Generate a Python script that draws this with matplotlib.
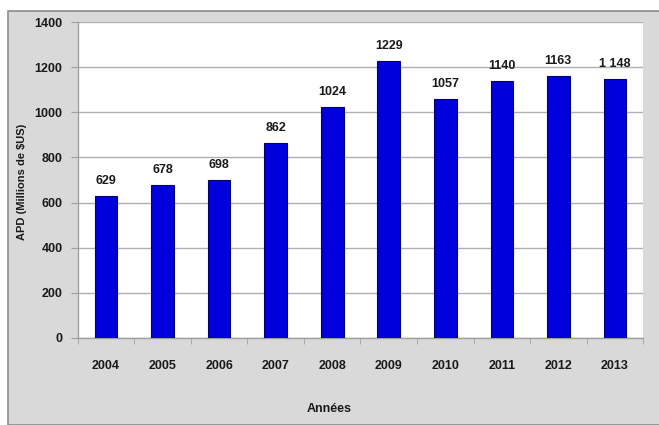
import matplotlib
matplotlib.use("Agg")
import matplotlib.pyplot as plt
from matplotlib.patches import Rectangle

years = ["2004", "2005", "2006", "2007", "2008", "2009", "2010", "2011", "2012", "2013"]
apd = [629, 678, 698, 862, 1024, 1229, 1057, 1140, 1163, 1148]
value_labels = ["629", "678", "698", "862", "1024", "1229", "1057", "1140", "1163", "1 148"]

plt.rcParams['font.family'] = ['Liberation Sans Narrow', 'Liberation Sans', 'DejaVu Sans']

fig = plt.figure(figsize=(6.59, 4.25), dpi=100)
fig.patch.set_facecolor("white")
# grey panel behind the chart
fig.patches.append(Rectangle((8 / 659, 0), 1, 1 - 11 / 425, transform=fig.transFigure,
                             facecolor="#d9d9d9", edgecolor="#8c8c8c", linewidth=1.2, zorder=-5))

ax = fig.add_axes([0.118, 0.205, 0.858, 0.743])
ax.set_zorder(2)
ax.set_facecolor("white")

x = list(range(len(years)))
ax.bar(x, apd, width=0.4, color="#0000dc", edgecolor="#00006e", linewidth=0.8, zorder=3)
for xi, v, lab in zip(x, apd, value_labels):
    ax.text(xi, v + 40, lab, ha="center", va="bottom", fontsize=9, fontweight="bold", color="#1a1a1a")

ax.set_ylim(0, 1400)
ax.set_xlim(-0.5, len(years) - 0.5)
ax.set_yticks(range(0, 1401, 200))
ax.yaxis.grid(True, color="#b0b0b0", linewidth=1)
ax.set_axisbelow(True)

ax.set_xticks(x)
ax.set_xticklabels(years)
ax.set_xticks([i + 0.5 for i in range(-1, len(years))], minor=True)
ax.tick_params(axis="x", which="major", length=0, pad=16, labelsize=9)
ax.tick_params(axis="x", which="minor", length=4, color="#a0a0a0")
ax.tick_params(axis="y", length=5, color="#a0a0a0", pad=6, labelsize=9)
for lab in ax.get_xticklabels() + ax.get_yticklabels():
    lab.set_fontweight("bold")
    lab.set_color("#1a1a1a")

for s in ["top", "right"]:
    ax.spines[s].set_visible(False)
for s in ["left", "bottom"]:
    ax.spines[s].set_color("#a0a0a0")
    ax.spines[s].set_linewidth(1)

fig.text(22 / 659, 1 - 182 / 425, "APD (Millions de $US)", rotation=90, ha="center", va="center",
         fontsize=8, fontweight="bold", color="#1a1a1a")
fig.text(0.5, 0.03, "Années", ha="center", fontsize=9, fontweight="bold", color="#1a1a1a")

fig.savefig("out.png", dpi=100)
